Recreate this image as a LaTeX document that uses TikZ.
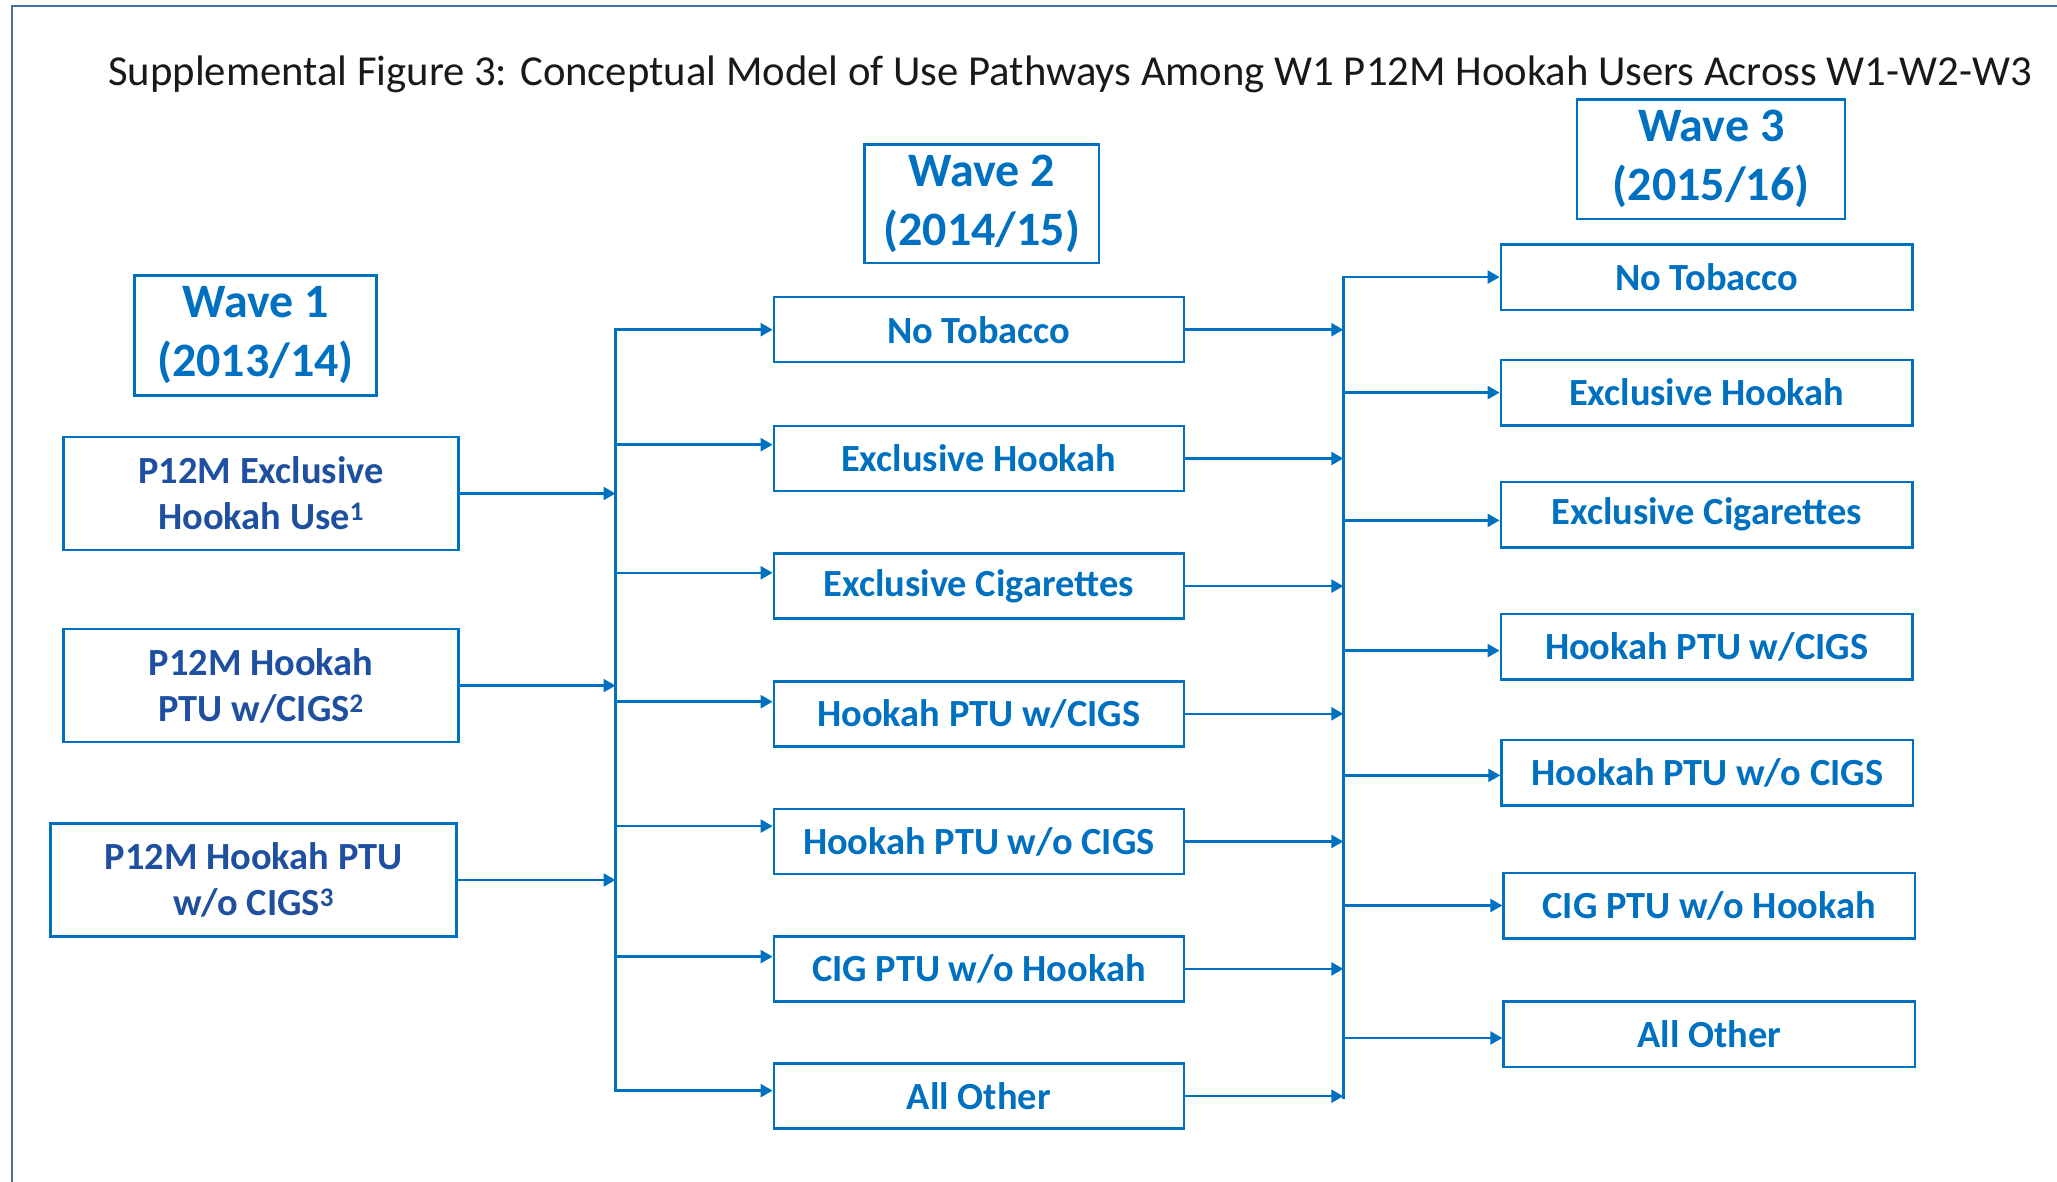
\documentclass[tikz,border=0pt]{standalone}
\usepackage{fontspec}
\setmainfont{Carlito}
\usetikzlibrary{arrows.meta,calc}
\definecolor{lineblue}{HTML}{0070C0}
\definecolor{darkblue}{HTML}{1F50A0}
\definecolor{framecol}{HTML}{41719C}
\begin{document}
\begin{tikzpicture}[x=1pt,y=-1pt,
  box/.style={draw=lineblue, line width=2.5pt, inner sep=0pt, align=center,
    font=\fontsize{38.4}{46}\selectfont\bfseries, text=lineblue},
  hdr/.style={box, font=\fontsize{48}{59}\selectfont\bfseries},
  srcbox/.style={box, text=darkblue, minimum height=113pt},
  wtwo/.style={box, minimum width=409.9pt, minimum height=65pt},
  wthree/.style={box, minimum width=411.5pt, minimum height=65.5pt},
  arr/.style={draw=lineblue, line width=2.5pt, -{Triangle[length=12pt,width=13pt]}},
  busline/.style={draw=lineblue, line width=2.5pt, line cap=rect}]
\useasboundingbox (0,0) rectangle (2057,1182);
\fill[white] (0,0) rectangle (2057,1182);
\draw[framecol, line width=2pt] (11.8,1182) -- (11.8,5.7) -- (2057,5.7);

\node[anchor=base west, inner sep=0pt, font=\fontsize{42.7}{50}\selectfont, text=black!90] (title) at (108,86)
  {Supplemental Figure 3: Conceptual Model of Use Pathways Among W1 P12M Hookah Users Across W1-W2-W3};

% headers
\node[hdr, minimum width=241.7pt, minimum height=119.8pt] (w1) at (255.5,335.4) {Wave 1\\(2013/14)};
\node[hdr, minimum width=234.5pt, minimum height=118.6pt] (w2) at (981.8,203.6) {Wave 2\\(2014/15)};
\node[hdr, minimum width=268pt, minimum height=119.4pt] (w3) at (1711.2,159.2) {Wave 3\\(2015/16)};

% wave 1 boxes
\node[srcbox, minimum width=394.8pt] (a1) at (261.1,493.5) {P12M Exclusive\\Hookah Use\textsuperscript{1}};
\node[srcbox, minimum width=394.8pt] (a2) at (261.1,685.6) {P12M Hookah\\PTU w/CIGS\textsuperscript{2}};
\node[srcbox, minimum width=405.9pt] (a3) at (253.6,880) {P12M Hookah PTU\\w/o CIGS\textsuperscript{3}};

% wave 2 boxes
\node[wtwo] (b1) at (978.8,329.7) {No Tobacco};
\node[wtwo] (b2) at (978.8,458.5) {Exclusive Hookah};
\node[wtwo] (b3) at (978.8,586.1) {Exclusive Cigarettes};
\node[wtwo] (b4) at (978.8,713.8) {Hookah PTU w/CIGS};
\node[wtwo] (b5) at (978.8,841.5) {Hookah PTU w/o CIGS};
\node[wtwo] (b6) at (978.8,968.9) {CIG PTU w/o Hookah};
\node[wtwo] (b7) at (978.8,1096.2) {All Other};

% wave 3 boxes
\node[wthree] (c1) at (1706.6,277.1) {No Tobacco};
\node[wthree] (c2) at (1706.6,392.6) {Exclusive Hookah};
\node[wthree] (c3) at (1706.6,514.7) {Exclusive Cigarettes};
\node[wthree] (c4) at (1706.6,646.8) {Hookah PTU w/CIGS};
\node[wthree] (c5) at (1707.3,772.5) {Hookah PTU w/o CIGS};
\node[wthree] (c6) at (1709.3,905.5) {CIG PTU w/o Hookah};
\node[wthree] (c7) at (1709.3,1034.2) {All Other};

% bus 1
\coordinate (bus1top) at (615.5,329.1);
\coordinate (bus1bot) at (615.5,1090.6);
\draw[busline] (bus1top) -- (bus1bot);
\draw[arr] (a1.east) -- (a1.east -| bus1top);
\draw[arr] (a2.east) -- (a2.east -| bus1top);
\draw[arr] (a3.east) -- (a3.east -| bus1top);

\coordinate (b1in) at (b1.west);
\coordinate (b2in) at ([yshift=13.8pt]b2.west);
\coordinate (b3in) at ([yshift=13.3pt]b3.west);
\coordinate (b4in) at ([yshift=12.1pt]b4.west);
\coordinate (b5in) at ([yshift=15.4pt]b5.west);
\coordinate (b6in) at ([yshift=12.3pt]b6.west);
\coordinate (b7in) at ([yshift=5.6pt]b7.west);
\foreach \n in {b1in,b2in,b3in,b4in,b5in,b6in,b7in}
  \draw[arr] (bus1top |- \n) -- (\n);

% bus 2
\coordinate (bus2top) at (1343.3,277);
\coordinate (bus2bot) at (1343.3,1097.5);
\draw[busline] (bus2top) -- (bus2bot);
\foreach \n in {b1,b2,b3,b4,b5,b6,b7}
  \draw[arr] (\n.east) -- (\n.east -| bus2top);

\coordinate (c1in) at (c1.west);
\coordinate (c2in) at (c2.west);
\coordinate (c3in) at ([yshift=-5.7pt]c3.west);
\coordinate (c4in) at ([yshift=-3.8pt]c4.west);
\coordinate (c5in) at ([yshift=-2.9pt]c5.west);
\coordinate (c6in) at (c6.west);
\coordinate (c7in) at ([yshift=-3.8pt]c7.west);
\foreach \n in {c1in,c2in,c3in,c4in,c5in,c6in,c7in}
  \draw[arr] (bus2top |- \n) -- (\n);
\end{tikzpicture}
\end{document}
